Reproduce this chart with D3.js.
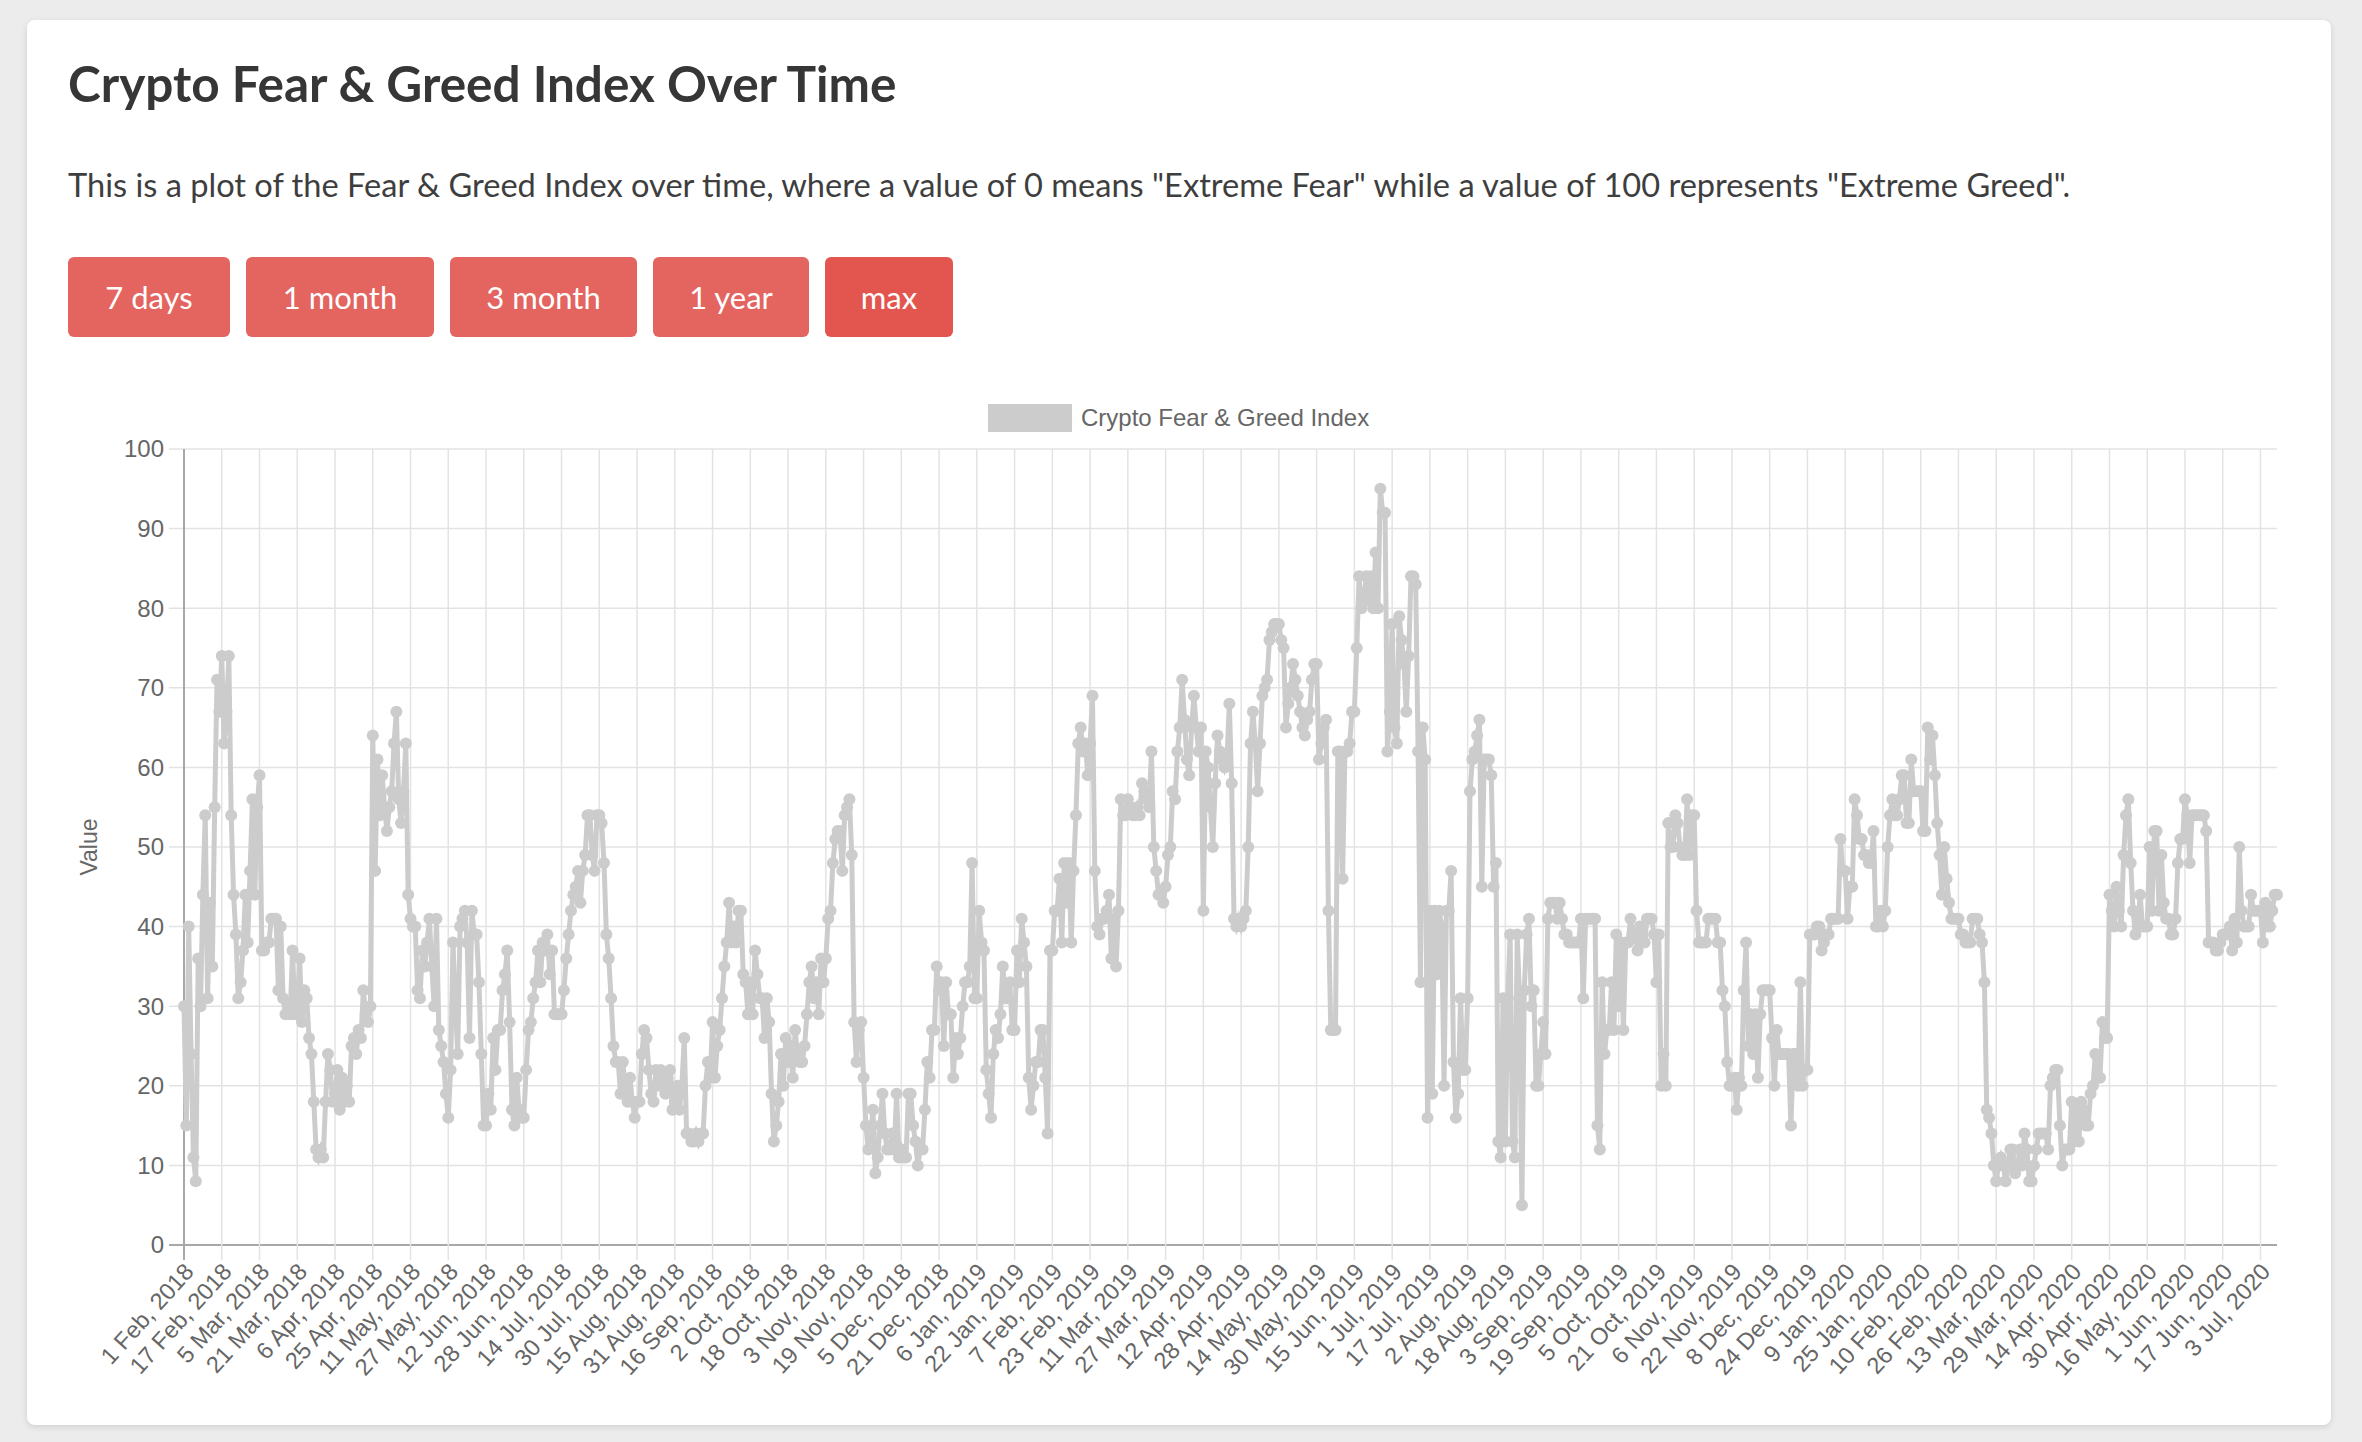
<!DOCTYPE html>
<html>
<head>
<meta charset="utf-8">
<script src="https://cdn.jsdelivr.net/npm/d3@7"></script>
<style>
  body { margin: 0; background: #ececec; width: 2362px; height: 1442px; overflow: hidden; font-family: Lato, "Noto Sans", sans-serif; }
  .card { position: absolute; left: 27px; top: 20px; width: 2304px; height: 1405px; background: #fff; border-radius: 8px; box-shadow: 0 2px 6px rgba(0,0,0,0.12); }
  h1 { position: absolute; left: 68px; top: 56px; margin: 0; font-size: 49.5px; line-height: 54px; font-weight: 700; color: #363636; }
  p.desc { position: absolute; left: 68px; top: 165px; margin: 0; font-size: 32.6px; line-height: 40px; color: #3e3e3e; }
  .buttons { position: absolute; left: 68px; top: 257px; display: flex; }
  .buttons button { height: 80px; border: none; border-radius: 6px; background: #e4645f; color: #fff; font-family: inherit; font-size: 31px; margin-right: 16px; padding: 0; }
  .buttons button.active { background: #e3564f; }
  svg { position: absolute; left: 0; top: 0; }
</style>
</head>
<body>
<div class="card"></div>
<h1>Crypto Fear &amp; Greed Index Over Time</h1>
<p class="desc">This is a plot of the Fear &amp; Greed Index over time, where a value of 0 means "Extreme Fear" while a value of 100 represents "Extreme Greed".</p>
<div class="buttons"></div>
<div id="chart"></div>
<script>
// range buttons above the chart
const rangeButtons = ["7 days", "1 month", "3 month", "1 year", "max"];
const buttonWidths = [162, 188, 187, 156, 128];

const seriesName = "Crypto Fear & Greed Index";
const yTickValues = [0, 10, 20, 30, 40, 50, 60, 70, 80, 90, 100];

// one label every 16 data points (autoskipped category axis)
const tickLabels = [
  "1 Feb, 2018", "17 Feb, 2018", "5 Mar, 2018", "21 Mar, 2018", "6 Apr, 2018", "25 Apr, 2018",
  "11 May, 2018", "27 May, 2018", "12 Jun, 2018", "28 Jun, 2018", "14 Jul, 2018", "30 Jul, 2018",
  "15 Aug, 2018", "31 Aug, 2018", "16 Sep, 2018", "2 Oct, 2018", "18 Oct, 2018", "3 Nov, 2018",
  "19 Nov, 2018", "5 Dec, 2018", "21 Dec, 2018", "6 Jan, 2019", "22 Jan, 2019", "7 Feb, 2019",
  "23 Feb, 2019", "11 Mar, 2019", "27 Mar, 2019", "12 Apr, 2019", "28 Apr, 2019", "14 May, 2019",
  "30 May, 2019", "15 Jun, 2019", "1 Jul, 2019", "17 Jul, 2019", "2 Aug, 2019", "18 Aug, 2019",
  "3 Sep, 2019", "19 Sep, 2019", "5 Oct, 2019", "21 Oct, 2019", "6 Nov, 2019", "22 Nov, 2019",
  "8 Dec, 2019", "24 Dec, 2019", "9 Jan, 2020", "25 Jan, 2020", "10 Feb, 2020", "26 Feb, 2020",
  "13 Mar, 2020", "29 Mar, 2020", "14 Apr, 2020", "30 Apr, 2020", "16 May, 2020", "1 Jun, 2020",
  "17 Jun, 2020", "3 Jul, 2020"
];
const labelEvery = 16;

// daily index values (16 per row)
const fngValues = [
  30,15,40,24,11,8,36,30,44,54,31,43,35,55,71,67,
  74,63,67,74,54,44,39,31,33,37,44,38,47,56,44,55,
  59,37,37,38,38,41,41,41,32,40,31,29,30,29,37,29,
  29,36,28,32,31,26,24,18,12,11,12,11,18,24,22,18,
  19,22,17,21,18,20,18,25,26,24,27,26,32,29,28,30,
  64,47,61,54,59,55,52,55,57,63,67,56,53,57,63,44,
  41,40,40,32,31,37,35,38,41,35,30,41,27,25,23,19,
  16,22,38,30,24,40,41,42,38,26,42,39,39,33,24,15,
  15,19,17,26,22,27,27,32,34,37,28,17,15,21,17,16,
  16,22,27,28,31,33,37,33,38,37,39,34,37,29,29,29,
  29,32,36,39,42,44,45,47,43,47,49,54,54,49,47,54,
  54,53,48,39,36,31,25,23,23,19,23,19,18,21,18,16,
  18,18,24,27,26,22,19,18,22,20,22,21,19,21,22,17,
  18,20,17,20,26,14,14,13,13,14,13,14,14,20,23,21,
  28,21,25,27,31,35,38,43,38,40,38,42,42,34,33,29,
  33,29,37,34,31,31,26,31,28,19,13,15,18,24,20,26,
  23,25,21,27,24,23,23,25,29,33,35,31,33,29,36,33,
  36,41,42,48,51,52,52,47,54,55,56,49,28,23,27,28,
  21,15,12,14,17,9,11,15,19,14,12,12,14,12,19,11,
  12,11,11,19,19,15,13,10,12,12,17,23,21,27,27,35,
  32,33,25,33,29,29,21,26,24,26,30,33,33,35,48,31,
  31,42,38,37,22,19,16,24,27,26,29,35,31,31,33,27,
  27,37,33,41,38,35,21,17,20,23,23,27,27,21,14,37,
  37,42,42,46,38,48,43,48,38,47,54,63,65,62,63,59,
  63,69,47,40,39,41,41,42,44,36,41,35,42,56,54,54,
  56,55,54,54,55,54,58,57,56,55,62,50,47,44,44,43,
  45,49,50,57,56,62,65,71,66,61,59,65,69,65,62,65,
  42,62,60,55,50,58,64,62,61,60,61,68,58,41,40,41,
  40,41,42,50,63,67,63,57,63,69,70,71,76,77,78,78,
  78,76,75,65,68,70,73,71,69,67,65,64,66,67,71,73,
  73,61,63,65,66,42,27,27,27,62,62,46,62,62,63,67,
  67,75,84,80,81,84,81,84,80,87,80,95,92,92,62,67,
  78,65,63,79,76,73,67,74,84,84,83,62,33,65,61,16,
  42,19,42,34,42,40,20,42,42,47,23,16,19,31,22,22,
  31,57,61,62,64,66,45,61,61,61,59,45,48,13,11,31,
  13,31,39,13,11,39,31,5,32,39,41,30,32,20,20,24,
  28,24,41,43,43,43,41,43,41,39,39,38,38,38,38,38,
  41,31,41,41,41,41,41,15,12,33,24,27,27,33,27,39,
  30,38,27,38,38,41,39,39,37,40,39,38,41,41,41,39,
  33,39,20,24,20,53,50,50,54,53,50,49,49,56,49,54,
  54,42,38,38,38,38,41,41,41,41,38,38,32,30,23,20,
  20,21,17,21,20,32,38,25,29,24,29,21,29,32,32,32,
  32,26,20,27,24,24,24,24,24,15,24,24,20,33,20,22,
  22,39,39,39,40,40,37,38,39,39,41,41,41,41,51,47,
  47,41,45,45,56,54,51,51,49,49,48,48,52,40,40,42,
  40,42,50,54,56,54,54,56,59,59,53,53,61,57,57,57,
  57,52,52,65,61,64,59,53,49,44,50,46,43,41,41,41,
  41,39,39,38,38,38,41,41,41,39,38,33,17,16,14,10,
  8,10,11,10,8,10,12,12,9,10,12,10,14,12,8,8,
  10,12,14,14,14,14,12,20,21,22,22,15,10,12,12,12,
  18,13,17,13,18,17,15,15,19,20,24,21,21,28,26,26,
  44,42,40,45,42,40,49,54,56,48,42,39,40,44,40,40,
  40,50,42,52,52,42,49,43,41,41,39,39,41,48,51,51,
  56,54,48,54,54,54,54,54,54,52,38,38,38,37,37,38,
  39,39,39,40,37,41,38,50,42,40,40,40,44,42,42,42,
  42,38,43,40,40,42,44,44
];

d3.select(".buttons").selectAll("button")
  .data(rangeButtons)
  .enter().append("button")
  .attr("class", d => d === "max" ? "active" : null)
  .style("width", (d, i) => buttonWidths[i] + "px")
  .text(d => d);

const W = 2362, H = 1442;
const plot = {left: 184, right: 2277, top: 449, bottom: 1245};
const lineColor = "#cccccc";
const textColor = "#666666";
const font = "'Liberation Sans', Arial, sans-serif";

const svg = d3.select("#chart").append("svg")
  .attr("width", W)
  .attr("height", H);

const x = d3.scaleLinear()
  .domain([0, fngValues.length - 1])
  .range([plot.left, plot.right]);

const y = d3.scaleLinear()
  .domain([0, 100])
  .range([plot.bottom, plot.top]);

const tickIdx = tickLabels.map((d, i) => i * labelEvery);

// grid
const grid = svg.append("g");
grid.selectAll("line.h")
  .data(yTickValues)
  .enter().append("line")
  .attr("x1", plot.left - 15)
  .attr("x2", plot.right)
  .attr("y1", d => y(d))
  .attr("y2", d => y(d))
  .attr("stroke", d => d === 0 ? "#a8a8a8" : "#e3e3e3")
  .attr("stroke-width", d => d === 0 ? 2 : 1.5);

grid.selectAll("line.v")
  .data(tickIdx)
  .enter().append("line")
  .attr("x1", d => x(d))
  .attr("x2", d => x(d))
  .attr("y1", plot.top)
  .attr("y2", plot.bottom + 15)
  .attr("stroke", (d, i) => i === 0 ? "#a8a8a8" : "#e3e3e3")
  .attr("stroke-width", (d, i) => i === 0 ? 2 : 1.5);

// y axis labels
svg.append("g").selectAll("text")
  .data(yTickValues)
  .enter().append("text")
  .attr("x", plot.left - 20)
  .attr("y", d => y(d))
  .attr("dy", "0.35em")
  .attr("text-anchor", "end")
  .attr("fill", textColor)
  .style("font", "24px " + font)
  .text(d => d);

svg.append("text")
  .attr("transform", `translate(97, ${(plot.top + plot.bottom) / 2}) rotate(-90)`)
  .attr("text-anchor", "middle")
  .attr("fill", textColor)
  .style("font", "23px " + font)
  .text("Value");

// x axis labels
svg.append("g").selectAll("text")
  .data(tickLabels)
  .enter().append("text")
  .attr("transform", (d, i) => `translate(${x(tickIdx[i]) + 5}, ${plot.bottom + 22}) rotate(-48)`)
  .attr("text-anchor", "end")
  .attr("dy", "0.35em")
  .attr("fill", textColor)
  .style("font", "23.5px " + font)
  .text(d => d);

// the series
const line = d3.line()
  .x((d, i) => x(i))
  .y(d => y(d));

svg.append("path")
  .datum(fngValues)
  .attr("d", line)
  .attr("fill", "none")
  .attr("stroke", lineColor)
  .attr("stroke-width", 5)
  .attr("stroke-linejoin", "miter");

svg.append("g").selectAll("circle")
  .data(fngValues)
  .enter().append("circle")
  .attr("cx", (d, i) => x(i))
  .attr("cy", d => y(d))
  .attr("r", 6)
  .attr("fill", lineColor);

// legend
const legend = svg.append("g");
legend.append("rect")
  .attr("x", 988)
  .attr("y", 404)
  .attr("width", 84)
  .attr("height", 28)
  .attr("fill", lineColor);
legend.append("text")
  .attr("x", 1081)
  .attr("y", 418)
  .attr("dy", "0.35em")
  .attr("fill", textColor)
  .style("font", "24px " + font)
  .text(seriesName);
</script>
</body>
</html>
